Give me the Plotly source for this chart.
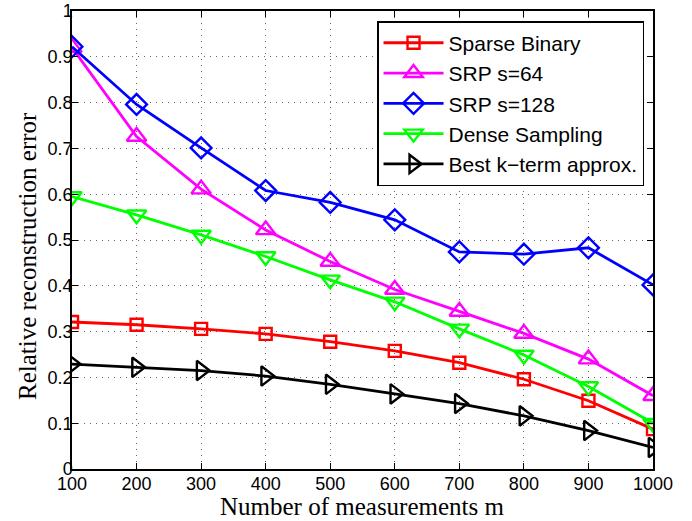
import plotly.graph_objects as go

# Number of measurements
m_values = [100, 200, 300, 400, 500, 600, 700, 800, 900, 1000]

# Relative reconstruction error per method
sparse_binary = [0.321, 0.315, 0.306, 0.295, 0.278, 0.258, 0.232, 0.196, 0.149, 0.087]
srp_s64 = [0.920, 0.726, 0.611, 0.522, 0.453, 0.392, 0.344, 0.296, 0.240, 0.160]
srp_s128 = [0.922, 0.796, 0.701, 0.608, 0.582, 0.544, 0.474, 0.469, 0.483, 0.402]
dense_sampling = [0.595, 0.555, 0.511, 0.464, 0.413, 0.365, 0.306, 0.249, 0.180, 0.100]
best_k_term = [0.229, 0.222, 0.215, 0.203, 0.185, 0.164, 0.143, 0.116, 0.084, 0.047]

y_ticks = [0, 0.1, 0.2, 0.3, 0.4, 0.5, 0.6, 0.7, 0.8, 0.9, 1]
y_tick_labels = ["0", "0.1", "0.2", "0.3", "0.4", "0.5", "0.6", "0.7", "0.8", "0.9", "1"]

series = [
    ("Sparse Binary", sparse_binary, "#ff0000", "square-open", 12),
    ("SRP s=64", srp_s64, "#ff00ff", "triangle-up-open", 17),
    ("SRP s=128", srp_s128, "#0000ff", "diamond-open", 16),
    ("Dense Sampling", dense_sampling, "#00ff00", "triangle-down-open", 17),
    ("Best k\u2212term approx.", best_k_term, "#000000", "triangle-right-open", 17),
]

fig = go.Figure()
for name, vals, color, symbol, size in series:
    fig.add_trace(go.Scatter(
        x=m_values, y=vals, name=name, mode="lines+markers",
        line=dict(color=color, width=2.8),
        marker=dict(symbol=symbol, size=size, color=color,
                    line=dict(color=color, width=2.4)),
    ))

axis_common = dict(
    showline=True, linecolor="black", linewidth=1.5, mirror="allticks",
    ticks="inside", ticklen=6, tickcolor="black", automargin=False,
    showgrid=True, gridcolor="rgba(0,0,0,0.6)", griddash="1px,5px", gridwidth=1,
    zeroline=False,
    tickfont=dict(family="Liberation Sans, Arial", size=18, color="black"),
)

fig.update_xaxes(
    range=[100, 1000], tickvals=m_values, ticktext=[str(v) for v in m_values],
    ticklabelstandoff=-2,
    **axis_common,
)
fig.update_yaxes(
    range=[0, 1], tickvals=y_ticks, ticktext=y_tick_labels,
    ticklabelstandoff=-6,
    **axis_common,
)

title_font = dict(family="Liberation Serif, Times New Roman", size=25, color="black")
fig.add_annotation(
    text="Number of measurements m", xref="paper", yref="paper",
    x=0.5, y=-0.081, xanchor="center", yanchor="middle",
    showarrow=False, font=title_font,
)
fig.add_annotation(
    text="Relative reconstruction error", xref="paper", yref="paper",
    x=-0.0775, y=0.465, xanchor="center", yanchor="middle", textangle=-90,
    showarrow=False, font=title_font,
)

fig.update_layout(
    width=692, height=521,
    margin=dict(l=72, r=39, t=11, b=52),
    plot_bgcolor="white", paper_bgcolor="white",
    legend=dict(
        x=0.525, y=0.978, xanchor="left", yanchor="top",
        bgcolor="white", bordercolor="black", borderwidth=1.5,
        font=dict(family="Liberation Sans, Arial", size=21, color="black"),
        tracegroupgap=0, itemwidth=60,
    ),
    showlegend=True,
)

fig.write_html("out.html")
